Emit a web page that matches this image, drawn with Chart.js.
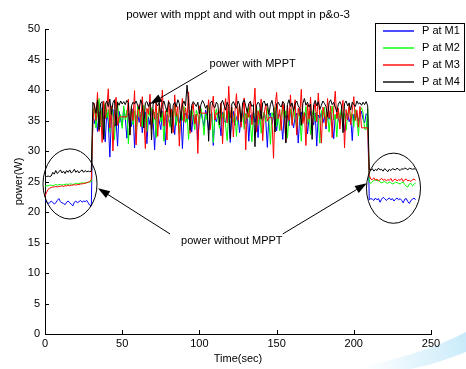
<!DOCTYPE html>
<html><head><meta charset="utf-8">
<script src="https://cdn.jsdelivr.net/npm/chart.js@4.4.0/dist/chart.umd.min.js"></script>
<style>html,body{margin:0;padding:0;background:#fff;overflow:hidden}</style>
</head><body>
<canvas id="c" width="466" height="369"></canvas>
<script>
const chartTitle = 'power with mppt and with out mppt in p&o-3';
const xTitle = 'Time(sec)';
const yTitle = 'power(W)';
const seriesNames = ['P at M1', 'P at M2', 'P at M3', 'P at M4'];
const seriesColors = ['#0000ff', '#00ff00', '#ff0000', '#000000'];
const xTicks = [0, 50, 100, 150, 200, 250];
const yTicks = [0, 5, 10, 15, 20, 25, 30, 35, 40, 45, 50];

// t = 0..30 (without MPPT)
const m1Before = [22.0,21.6,21.4,21.5,21.8,21.6,21.3,21.5,21.9,22.2,21.7,21.5,21.4,21.2,21.6,21.8,21.5,21.3,21.0,21.6,21.8,21.5,21.7,21.9,21.6,21.8,21.7,21.9,21.5,21.1,21.0];
const m2Before = [24.2,24.3,24.3,24.4,24.4,24.3,24.4,24.5,24.4,24.5,24.5,24.4,24.5,24.5,24.6,24.5,24.6,24.6,24.5,24.6,24.7,24.6,24.7,24.7,24.8,24.7,24.8,24.8,24.9,24.9,25.0];
const m3Before = [22.6,23.2,23.7,23.9,24.0,24.1,24.1,24.2,24.1,24.2,24.2,24.3,24.2,24.3,24.3,24.4,24.3,24.4,24.4,24.5,24.4,24.5,24.5,24.6,24.6,24.7,24.7,24.8,24.9,25.0,25.3];
const m4Before = [25.8,25.8,25.9,25.8,25.9,26.5,26.2,26.8,26.3,26.6,26.9,26.4,26.7,26.3,26.8,26.5,26.9,26.4,26.6,27.0,26.5,26.8,26.4,26.7,26.9,26.5,26.8,26.6,26.7,26.6,26.7];

// t = 31..209 (with MPPT)
const m1Mppt = [
36.0,34.5,35.8,33.2,36.4,34.0,37.1,35.2,31.5,36.3,
34.8,29.0,35.5,36.8,33.9,35.2,30.8,36.5,35.0,34.2,
37.0,35.5,32.1,36.2,35.8,34.0,36.9,30.5,35.4,36.1,
34.7,36.3,33.0,35.9,36.4,31.2,35.6,34.3,36.7,35.1,
30.2,35.8,36.2,34.9,33.5,36.5,35.3,31.0,36.0,35.4,
34.2,36.8,35.6,32.7,36.1,35.0,34.6,36.3,30.4,35.7,
36.2,34.8,35.5,36.6,33.1,35.9,34.5,36.0,31.8,35.3,
36.4,35.1,34.0,36.7,35.6,33.4,35.9,36.2,30.9,35.5,
34.8,36.1,35.2,32.5,36.4,35.0,34.6,36.3,35.7,31.4,
35.8,36.5,34.2,35.5,36.0,33.0,35.4,36.6,35.1,34.5,
36.2,31.6,35.9,35.3,36.4,34.7,35.8,32.2,36.1,35.5,
34.9,36.3,35.0,30.6,35.7,36.2,34.4,35.9,36.5,33.3,
35.6,36.0,34.8,31.9,36.3,35.4,35.9,34.1,36.6,35.2,
33.8,35.7,36.2,31.3,35.5,36.4,34.9,35.8,36.1,32.8,
35.3,36.5,35.0,34.3,36.2,30.8,35.9,35.4,36.3,34.6,
35.7,33.6,36.0,35.2,36.4,34.7,32.0,35.8,36.1,35.3,
34.5,36.6,35.1,33.2,35.9,36.2,34.8,35.5,31.7,36.0,
35.4,36.3,34.9,35.7,36.5,35.2,34.6,36.1,35.8];
const m2Mppt = [
35.2,37.5,33.8,36.4,38.6,34.1,36.9,32.5,37.8,35.4,
36.8,33.0,37.2,35.9,31.8,36.5,38.1,34.6,36.0,33.7,
37.4,35.1,36.7,31.2,35.8,37.0,34.3,36.6,32.9,37.3,
35.6,36.2,34.0,37.5,35.3,33.2,36.9,35.7,37.1,34.5,
36.4,32.2,35.9,37.2,34.8,36.3,31.6,35.5,37.0,35.2,
33.9,36.8,35.4,37.4,34.2,36.1,32.8,36.5,35.0,37.3,
34.6,36.0,31.9,35.7,37.1,35.3,33.5,36.7,35.9,34.4,
37.0,35.6,32.6,36.2,35.1,37.5,34.9,36.4,31.4,35.8,
36.9,35.2,33.7,37.2,35.5,36.3,34.1,31.7,36.6,35.4,
37.0,34.7,36.1,32.4,35.9,37.3,35.0,36.5,33.6,36.2,
35.3,37.1,34.5,31.5,36.0,35.7,37.4,34.3,36.8,32.9,
35.6,36.4,34.8,37.0,35.2,31.1,36.3,35.5,37.2,34.0,
36.1,33.3,35.8,37.5,35.1,36.6,32.1,35.4,36.9,34.6,
37.1,35.3,33.8,36.2,35.7,31.6,36.5,35.0,37.3,34.4,
36.0,32.7,35.9,37.0,34.9,36.4,35.2,31.3,36.7,35.6,
37.2,34.2,36.3,33.1,35.8,37.4,35.1,36.0,32.3,36.6,
35.4,37.0,34.7,36.2,33.4,35.9,37.3,35.5,36.1,34.0,
36.8,35.3,32.5,36.4,37.1,36.3,33.6,33.5,36.9];
const m3Mppt = [
34.5,37.8,35.0,39.6,33.2,36.7,31.4,38.2,35.3,36.9,
40.2,33.8,37.4,30.0,36.1,38.8,34.2,35.6,35.6,35.6,
35.6,35.6,35.6,38.5,32.7,37.2,35.0,39.9,31.0,36.4,
37.6,34.0,38.9,35.4,30.4,37.0,36.0,39.3,33.6,36.8,
35.2,38.0,32.4,37.5,35.8,40.0,34.1,36.6,31.8,38.3,
35.5,36.9,33.0,39.2,35.7,37.3,30.8,36.2,38.6,34.8,
37.1,35.3,39.7,32.9,36.5,37.8,34.4,36.0,29.6,37.4,
36.2,36.2,36.2,36.2,36.2,38.4,33.5,36.8,39.0,35.1,
36.2,36.2,36.2,37.9,31.2,36.7,38.6,34.6,40.6,35.4,
37.2,32.3,36.4,39.4,35.0,37.6,33.9,36.3,38.7,30.2,
36.9,35.5,38.2,34.3,37.0,40.3,33.1,36.6,35.2,38.5,
31.7,36.2,37.7,34.9,35.5,35.5,35.5,28.8,37.3,39.6,
35.3,36.8,33.4,38.1,36.0,31.5,37.5,35.0,39.2,34.2,
36.7,38.4,32.6,37.0,35.8,40.1,34.5,36.3,30.9,37.6,
35.2,38.8,33.7,36.5,37.9,34.8,39.5,35.6,31.3,37.2,
36.1,34.0,38.6,35.4,37.4,32.2,36.9,39.8,35.3,37.0,
33.6,36.4,38.3,30.5,36.8,35.1,37.7,34.3,36.6,38.9,
35.0,36.7,33.9,37.3,33.8,33.8,33.8,33.8,33.8];
const m4Mppt = [
38.0,37.4,36.2,38.3,33.5,37.8,38.1,31.9,37.6,38.2,
37.3,38.5,36.0,37.9,38.4,34.1,38.0,37.5,38.2,37.7,
38.1,37.6,38.3,37.9,32.6,37.4,38.0,37.7,38.2,37.5,
36.8,38.4,37.6,33.8,37.9,38.1,37.3,38.0,31.8,37.6,
38.3,37.8,37.4,38.0,35.5,37.6,38.2,37.3,36.4,38.1,
37.7,32.9,37.5,38.0,37.2,38.4,37.8,35.0,37.6,38.2,
37.4,40.8,37.9,33.4,37.5,38.1,37.7,37.3,38.0,36.1,
37.6,38.3,37.8,37.0,37.5,31.6,37.9,38.2,37.4,37.1,
38.0,37.6,34.3,37.8,38.3,37.5,36.7,38.0,37.3,32.0,
37.7,38.1,37.5,37.0,38.2,37.6,34.8,37.9,38.4,37.4,
36.3,37.8,38.1,37.3,37.6,30.7,37.5,38.0,37.7,35.3,
37.9,38.2,37.4,37.8,36.0,37.6,38.3,37.1,33.1,37.7,
38.0,37.5,37.2,38.1,37.8,31.3,37.6,38.4,37.3,37.9,
36.5,37.7,38.2,37.4,37.0,34.2,37.8,38.6,37.5,38.0,
37.2,37.7,31.9,37.6,38.3,37.4,38.1,36.8,37.5,38.2,
37.8,37.3,35.6,37.9,38.4,37.6,38.0,37.2,36.4,37.7,
38.1,37.5,33.0,37.8,38.2,37.4,37.9,36.7,38.0,37.6,
37.3,38.2,37.7,37.9,37.5,38.0,37.6,38.1,37.4];

// t = 210..240 (without MPPT)
const m1After = [22.0,22.2,22.1,21.9,22.3,22.0,22.2,21.6,22.1,22.4,22.2,21.9,22.1,22.3,22.0,22.2,21.8,22.1,22.3,22.0,22.2,21.9,21.5,22.1,22.2,21.7,21.4,21.9,22.1,22.3,22.0];
const m2After = [24.9,24.7,24.9,25.2,25.3,25.1,25.2,24.9,24.8,24.9,25.0,24.8,24.7,24.9,24.8,24.6,24.7,24.9,24.8,24.7,24.6,24.8,24.9,24.5,24.2,24.1,24.6,24.7,24.3,24.5,24.8];
const m3After = [26.0,25.4,25.3,25.6,25.2,25.4,25.1,25.3,25.5,25.2,25.4,25.1,25.3,25.2,25.5,25.0,25.3,25.4,25.1,25.3,25.2,25.5,25.0,25.3,25.4,25.1,25.2,25.0,25.3,25.4,25.2];
const m4After = [27.0,26.8,27.1,26.7,27.0,26.8,27.2,26.9,27.0,26.7,27.1,26.9,26.6,27.0,26.8,27.1,27.0,26.9,27.2,27.0,26.8,27.1,27.0,27.2,27.1,26.9,27.2,27.1,27.0,27.1,27.0];

const time = [];
for (let t = 0; t <= 240; t++) time.push(t);

const seriesValues = [
  [...m1Before, ...m1Mppt, ...m1After],
  [...m2Before, ...m2Mppt, ...m2After],
  [...m3Before, ...m3Mppt, ...m3After],
  [...m4Before, ...m4Mppt, ...m4After]
];

// annotations in data units
const annoTexts = [
  {text: 'power with MPPT', t: 134.5, v: 44.3},
  {text: 'power without MPPT', t: 121.0, v: 15.2}
];
const annoArrows = [
  {from: [105.0, 43.2], to: [68.0, 37.7]},
  {from: [81.0, 16.4], to: [34.3, 23.9]},
  {from: [154.0, 16.4], to: [208.5, 24.7]}
];
const annoEllipses = [
  {t: 16.2, v: 24.6, dt: 17.5, dv: 5.75},
  {t: 225.7, v: 23.9, dt: 17.5, dv: 5.75}
];

const FONT = 'Liberation Sans, Arial, sans-serif';

const bgPlugin = {
  id: 'bg',
  beforeDraw(chart) {
    const ctx = chart.ctx;
    ctx.save();
    ctx.fillStyle = '#fff';
    ctx.fillRect(0, 0, chart.width, chart.height);
    const g = ctx.createLinearGradient(360, 369, 466, 335);
    g.addColorStop(0, 'rgba(225,244,252,0)');
    g.addColorStop(0.5, 'rgba(215,240,251,0.7)');
    g.addColorStop(1, 'rgba(195,232,250,0.9)');
    ctx.fillStyle = g;
    ctx.beginPath();
    ctx.moveTo(350, 369);
    ctx.quadraticCurveTo(420, 356, 466, 332);
    ctx.lineTo(466, 352);
    ctx.quadraticCurveTo(430, 366, 410, 369);
    ctx.closePath();
    ctx.fill();
    ctx.restore();
  }
};

const decoPlugin = {
  id: 'deco',
  afterDatasetsDraw(chart) {
    const ctx = chart.ctx;
    const xs = chart.scales.x, ys = chart.scales.y;
    const ca = chart.chartArea;
    const px = t => xs.getPixelForValue(t);
    const py = v => ys.getPixelForValue(v);
    ctx.save();
    // inward ticks
    ctx.strokeStyle = '#000';
    ctx.lineWidth = 1;
    ctx.beginPath();
    xTicks.forEach(v => {
      const x = Math.round(px(v)) + 0.5;
      ctx.moveTo(x, ca.bottom);
      ctx.lineTo(x, ca.bottom - 4);
    });
    yTicks.forEach(v => {
      const y = Math.round(py(v)) + 0.5;
      ctx.moveTo(ca.left, y);
      ctx.lineTo(ca.left + 4, y);
    });
    ctx.stroke();

    // title
    ctx.fillStyle = '#000';
    ctx.font = '11.5px ' + FONT;
    ctx.textAlign = 'center';
    ctx.textBaseline = 'middle';
    ctx.fillText(chartTitle, (ca.left + ca.right) / 2, 15);

    // ellipses
    ctx.strokeStyle = '#000';
    annoEllipses.forEach(e => {
      const cx = px(e.t), cy = py(e.v);
      const rx = Math.abs(px(e.t + e.dt) - cx), ry = Math.abs(py(e.v + e.dv) - cy);
      ctx.beginPath();
      ctx.ellipse(cx, cy, rx, ry, 0, 0, Math.PI * 2);
      ctx.stroke();
    });

    // arrows
    annoArrows.forEach(a => {
      const x1 = px(a.from[0]), y1 = py(a.from[1]);
      const x2 = px(a.to[0]), y2 = py(a.to[1]);
      const ang = Math.atan2(y2 - y1, x2 - x1);
      const L = 12, W = 4;
      const bx = x2 - L * Math.cos(ang), by = y2 - L * Math.sin(ang);
      ctx.strokeStyle = '#000';
      ctx.beginPath();
      ctx.moveTo(x1, y1);
      ctx.lineTo(bx, by);
      ctx.stroke();
      ctx.beginPath();
      ctx.moveTo(x2, y2);
      ctx.lineTo(bx + W * Math.sin(ang), by - W * Math.cos(ang));
      ctx.lineTo(bx - W * Math.sin(ang), by + W * Math.cos(ang));
      ctx.closePath();
      ctx.fillStyle = '#000';
      ctx.fill();
    });

    // annotation texts
    ctx.fillStyle = '#000';
    ctx.font = '11px ' + FONT;
    ctx.textAlign = 'center';
    ctx.textBaseline = 'middle';
    annoTexts.forEach(a => ctx.fillText(a.text, px(a.t), py(a.v)));

    // legend
    const lx = 375, ly = 23, lw = 90, lh = 69;
    ctx.fillStyle = '#fff';
    ctx.fillRect(lx, ly, lw, lh);
    ctx.strokeStyle = '#000';
    ctx.lineWidth = 1;
    ctx.strokeRect(lx + 0.5, ly + 0.5, lw - 1, lh - 1);
    ctx.textAlign = 'left';
    seriesNames.forEach((name, i) => {
      const y = Math.round(ly + 8 + i * 17);
      ctx.strokeStyle = seriesColors[i];
      ctx.lineWidth = 1.4;
      ctx.beginPath();
      ctx.moveTo(383, y);
      ctx.lineTo(414, y);
      ctx.stroke();
      ctx.fillStyle = '#000';
      ctx.fillText(name, 422, y);
    });
    ctx.restore();
  }
};

const datasets = seriesNames.map((name, i) => ({
  label: name,
  data: time.map((t, k) => ({x: t, y: seriesValues[i][k]})),
  borderColor: seriesColors[i],
  backgroundColor: seriesColors[i],
  borderWidth: 1,
  pointRadius: 0,
  tension: 0,
  fill: false,
  order: seriesNames.length - 1 - i
}));

new Chart(document.getElementById('c'), {
  type: 'line',
  data: {datasets},
  plugins: [bgPlugin, decoPlugin],
  options: {
    responsive: false,
    animation: false,
    devicePixelRatio: 1,
    layout: {padding: {left: 0, right: 35, top: 29, bottom: 0}},
    plugins: {legend: {display: false}, title: {display: false}, tooltip: {enabled: false}},
    scales: {
      x: {
        type: 'linear', min: 0, max: 250,
        afterBuildTicks: s => { s.ticks = xTicks.map(v => ({value: v})); },
        afterFit: s => { s.height = 35; },
        grid: {drawOnChartArea: false, drawTicks: false},
        border: {display: true, color: '#000', width: 1},
        ticks: {color: '#000', font: {family: FONT, size: 11}, padding: 3, maxRotation: 0, autoSkip: false},
        title: {display: true, text: xTitle, color: '#000', font: {family: FONT, size: 11}, padding: {top: 0, bottom: 3}}
      },
      y: {
        type: 'linear', min: 0, max: 50,
        afterBuildTicks: s => { s.ticks = yTicks.map(v => ({value: v})); },
        afterFit: s => { s.width = 45; },
        grid: {drawOnChartArea: false, drawTicks: false},
        border: {display: true, color: '#000', width: 1},
        ticks: {color: '#000', font: {family: FONT, size: 11}, padding: 5, autoSkip: false},
        title: {display: true, text: yTitle, color: '#000', font: {family: FONT, size: 11}, padding: {top: 12, bottom: 0}}
      }
    }
  }
});
</script>
</body></html>
